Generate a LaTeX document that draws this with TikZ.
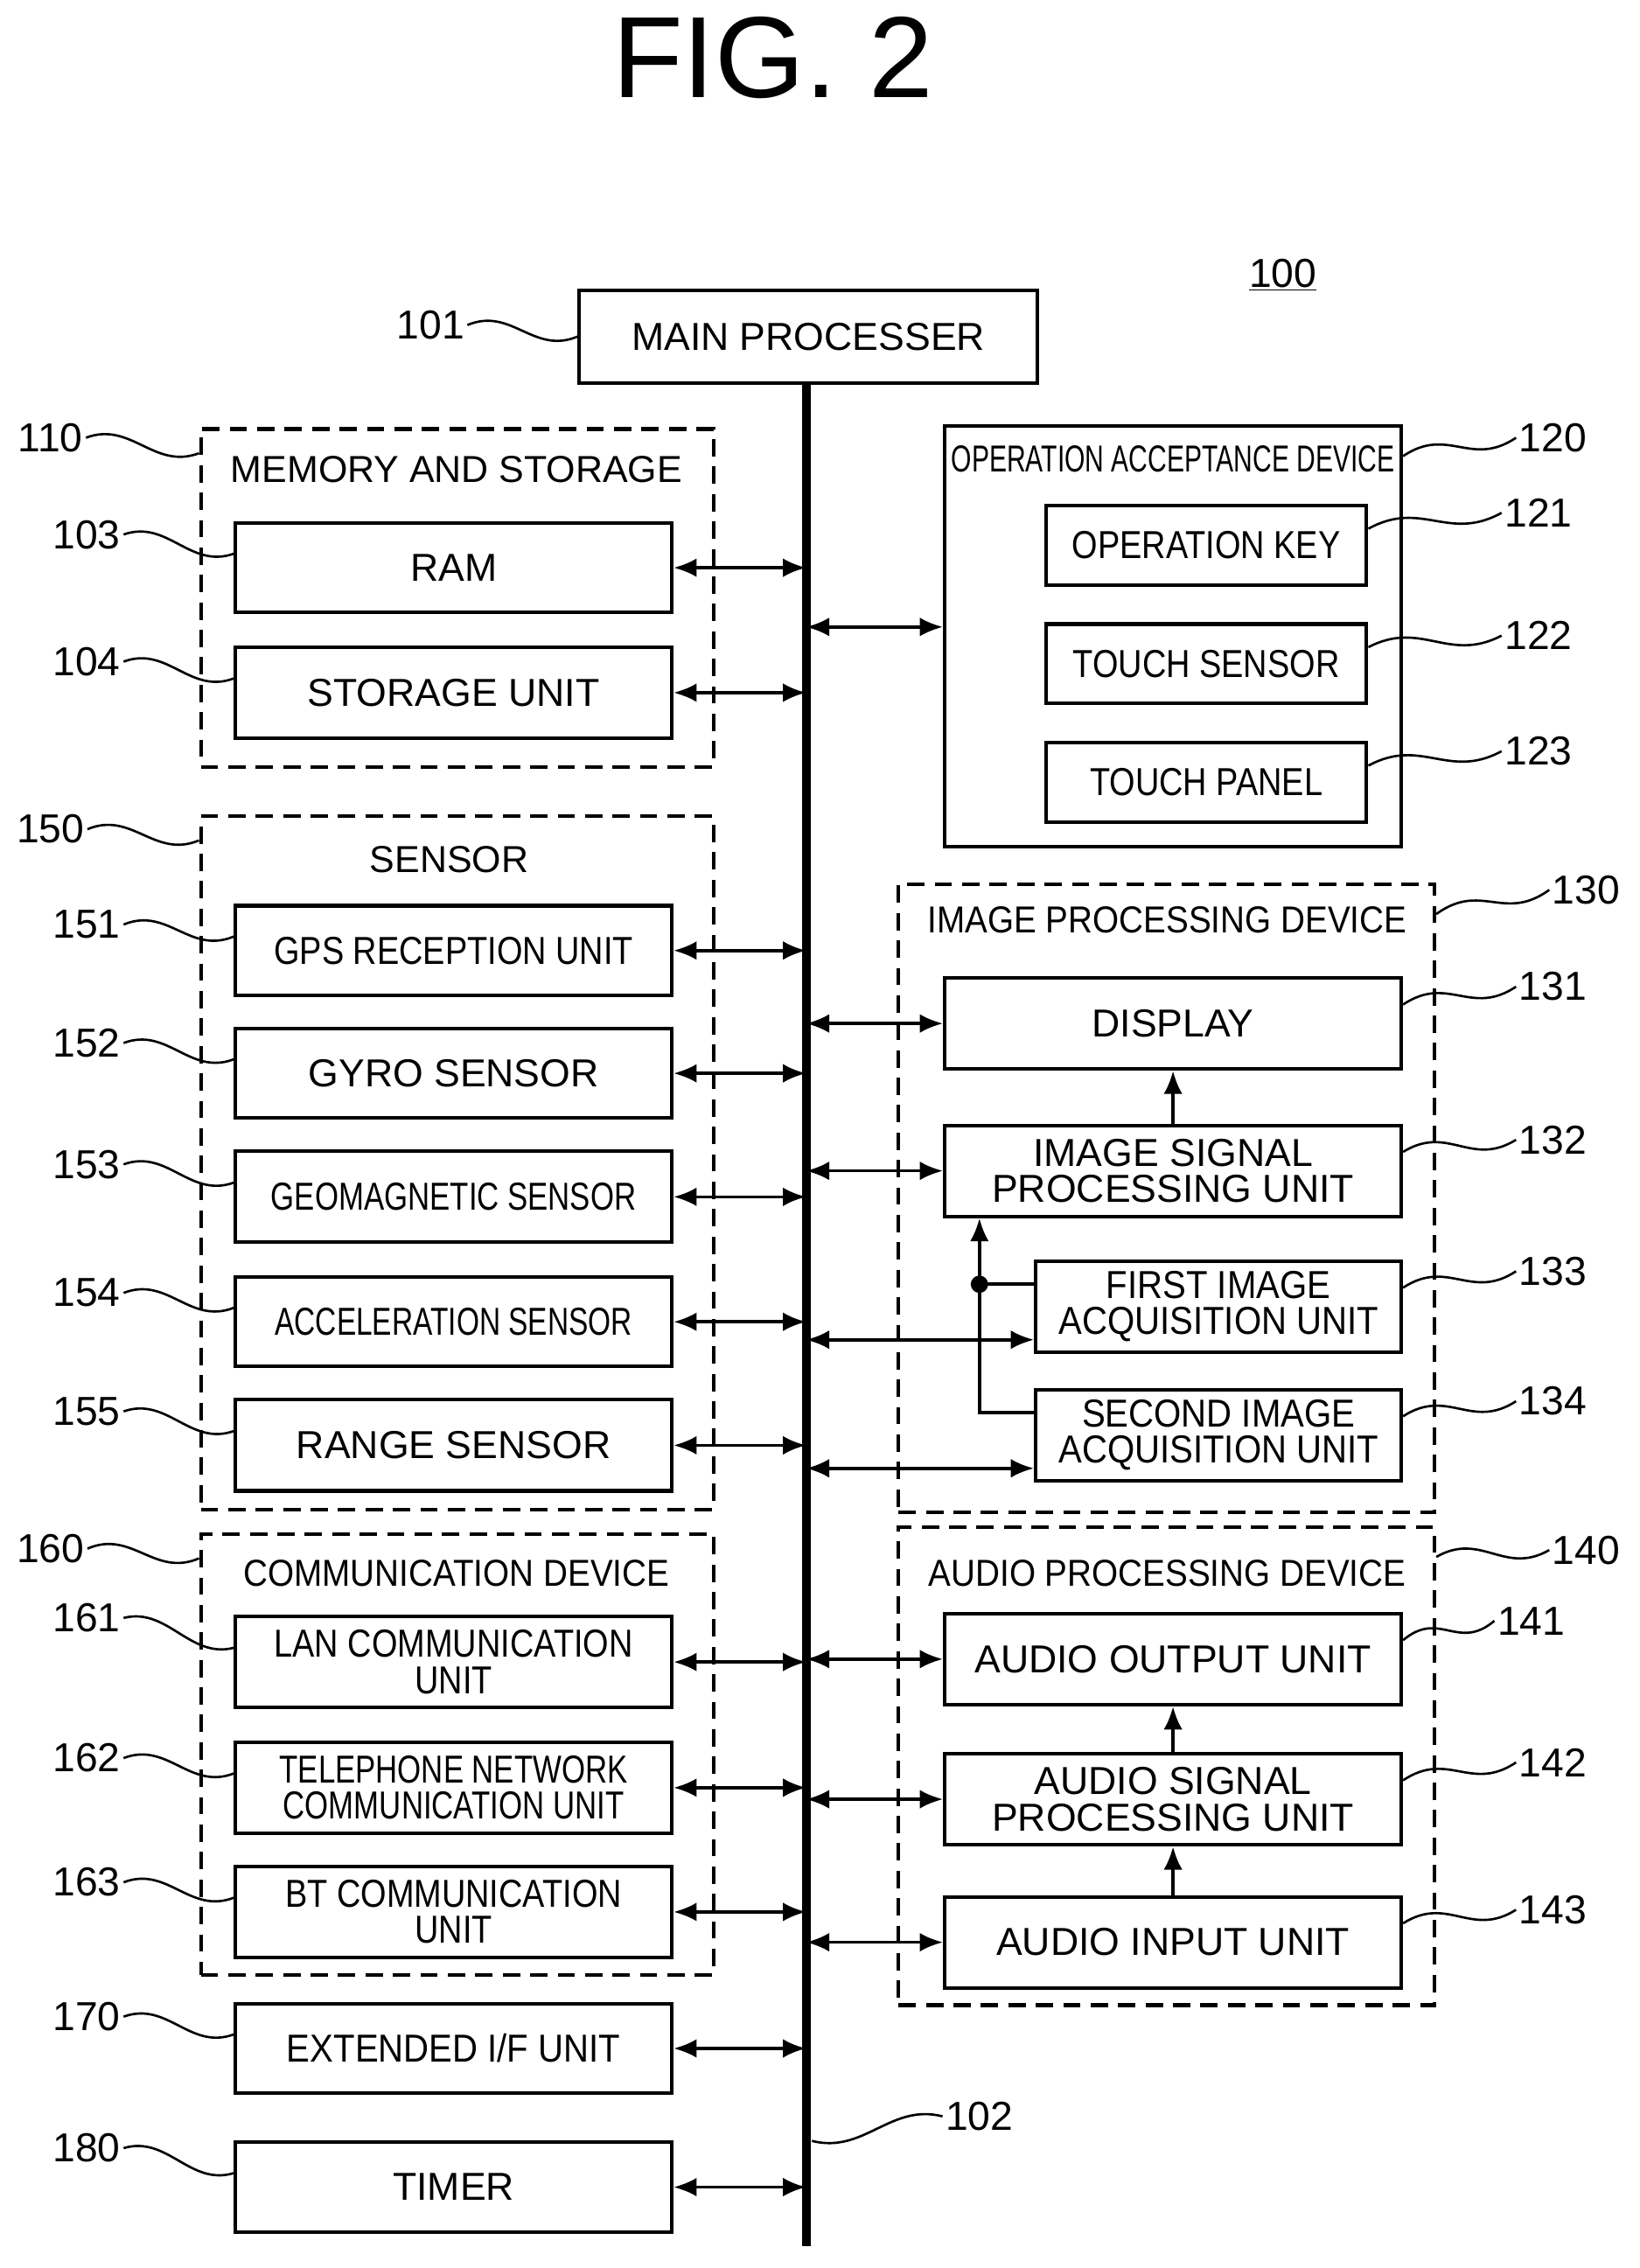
\documentclass[tikz,border=0pt]{standalone}
\usepackage{fontspec}
\setmainfont{Liberation Sans}
\usetikzlibrary{arrows.meta,calc}
\tikzset{
  blk/.style={draw, line width=2.5pt, align=center, inner sep=0pt, font=\fontsize{27}{25}\selectfont},
  grp/.style={draw, line width=2.5pt, dashed, dash pattern=on 12pt off 7pt, inner sep=0pt},
  opg/.style={draw, line width=2.5pt, inner sep=0pt},
  io/.style={line width=2.2pt, {Latex[length=16pt,width=13pt]}-{Latex[length=16pt,width=13pt]}},
  up/.style={line width=2.2pt, -{Latex[length=16pt,width=13pt]}},
  num/.style={font=\fontsize{28}{30}\selectfont, inner sep=2pt},
  ttl/.style={font=\fontsize{26}{28}\selectfont},
  squig/.style={line width=1.6pt, to path={.. controls ($(\tikztostart)!0.4!(\tikztotarget)+(0,-16)$) and ($(\tikztostart)!0.6!(\tikztotarget)+(0,16)$) .. (\tikztotarget)}},
}
% box by corners: style, name, x1, y1, x2, y2, text
\newcommand\bx[7]{\node[#1, minimum width={(#5-#3)*1pt}, minimum height={(#6-#4)*1pt}] (#2) at ({(#3+#5)/2},{(#4+#6)/2}) {#7};}
\newcommand\cnd[2]{\scalebox{#1}[1]{#2}}
\begin{document}
\begin{tikzpicture}[x=1pt,y=-1pt]
\useasboundingbox (0,0) rectangle (1135,1570);
\node[font=\fontsize{80}{80}\selectfont] (fig) at (535,40) {FIG. 2};
\node[num] (n100) at (888,190) {\underline{100}};

% main processor and bus
\bx{blk}{main}{401}{201}{718}{265}{MAIN PROCESSER}
\coordinate (bend) at (558,1555);
\draw[line width=6pt] (main.south -| bend) -- (bend);

% groups
\bx{grp}{g110}{139}{297}{494}{531}{}
\bx{grp}{g150}{139}{565}{494}{1045}{}
\bx{grp}{g160}{139}{1062}{494}{1367}{}
\bx{opg}{g120}{654}{295}{970}{586}{}
\bx{grp}{g130}{622}{612}{993}{1047}{}
\bx{grp}{g140}{622}{1057}{993}{1388}{}
\node[ttl] (t110) at (316,325) {MEMORY AND STORAGE};
\node[ttl] (t150) at (311,595) {SENSOR};
\node[ttl] (t160) at (316,1089) {\cnd{0.9}{COMMUNICATION DEVICE}};
\node[ttl] (t120) at (812,318) {\cnd{0.7}{OPERATION ACCEPTANCE DEVICE}};
\node[ttl] (t130) at (808,637) {\cnd{0.9}{IMAGE PROCESSING DEVICE}};
\node[ttl] (t140) at (808,1089) {\cnd{0.9}{AUDIO PROCESSING DEVICE}};

% left blocks
\bx{blk}{b103}{163}{362}{465}{424}{RAM}
\bx{blk}{b104}{163}{448}{465}{511}{STORAGE UNIT}
\bx{blk}{b151}{163}{627}{465}{689}{\cnd{0.85}{GPS RECEPTION UNIT}}
\bx{blk}{b152}{163}{712}{465}{774}{GYRO SENSOR}
\bx{blk}{b153}{163}{797}{465}{860}{\cnd{0.78}{GEOMAGNETIC SENSOR}}
\bx{blk}{b154}{163}{884}{465}{946}{\cnd{0.75}{ACCELERATION SENSOR}}
\bx{blk}{b155}{163}{969}{465}{1032}{RANGE SENSOR}
\bx{blk}{b161}{163}{1119}{465}{1182}{\cnd{0.85}{LAN COMMUNICATION}\\\cnd{0.85}{UNIT}}
\bx{blk}{b162}{163}{1206}{465}{1269}{\cnd{0.78}{TELEPHONE NETWORK}\\\cnd{0.78}{COMMUNICATION UNIT}}
\bx{blk}{b163}{163}{1292}{465}{1355}{\cnd{0.85}{BT COMMUNICATION}\\\cnd{0.85}{UNIT}}
\bx{blk}{b170}{163}{1387}{465}{1449}{\cnd{0.9}{EXTENDED I/F UNIT}}
\bx{blk}{b180}{163}{1483}{465}{1545}{TIMER}
\foreach \b in {b103,b104,b151,b152,b153,b154,b155,b161,b162,b163,b170,b180}
  \draw[io] (\b.east) -- (\b.east -| bend);

% right blocks
\bx{blk}{b121}{724}{350}{946}{405}{\cnd{0.85}{OPERATION KEY}}
\bx{blk}{b122}{724}{432}{946}{487}{\cnd{0.85}{TOUCH SENSOR}}
\bx{blk}{b123}{724}{514}{946}{569}{\cnd{0.85}{TOUCH PANEL}}
\bx{blk}{b131}{654}{677}{970}{740}{DISPLAY}
\bx{blk}{b132}{654}{779}{970}{842}{IMAGE SIGNAL\\PROCESSING UNIT}
\bx{blk}{b133}{717}{873}{970}{936}{\cnd{0.9}{FIRST IMAGE}\\\cnd{0.9}{ACQUISITION UNIT}}
\bx{blk}{b134}{717}{962}{970}{1025}{\cnd{0.9}{SECOND IMAGE}\\\cnd{0.9}{ACQUISITION UNIT}}
\bx{blk}{b141}{654}{1117}{970}{1180}{AUDIO OUTPUT UNIT}
\bx{blk}{b142}{654}{1214}{970}{1277}{AUDIO SIGNAL\\PROCESSING UNIT}
\bx{blk}{b143}{654}{1313}{970}{1376}{AUDIO INPUT UNIT}
\draw[io] (g120.west |- 0,434) coordinate (c120) -- (c120 -| bend);
\foreach \b in {b131,b132,b141,b142,b143}
  \draw[io] (\b.west) -- (\b.west -| bend);
\draw[io] ($(b133.south west)!0.3!(b133.west)$) coordinate (c133) -- (c133 -| bend);
\draw[io] ($(b134.south west)!0.3!(b134.west)$) coordinate (c134) -- (c134 -| bend);
\draw[up] (b132.north) -- (b131.south);
\draw[up] (b142.north) -- (b141.south);
\draw[up] (b143.north) -- (b142.south);
% image acquisition to signal processing
\coordinate (jn) at (678,889);
\draw[line width=2.2pt] (jn -| b133.west) -- (jn) |- (0,978 -| b134.west);
\draw[up] (jn) -- (jn |- b132.south);
\fill (jn) circle (6pt);

% reference numerals
\node[num] (n101) at (298,225) {101};
\draw[squig] (n101.east) to (main.west);
\node[num] (n102) at (678,1465) {102};
\draw[squig] (n102.west) to (562,1482);
\foreach \n/\y/\t in {110/303/g110,150/574/g150,160/1072/g160}{
  \node[num] (n\n) at (35,\y) {\n};
  \draw[squig] (n\n.east) to ($(\t.north west)+(0,18)$);
}
\foreach \n/\y in {103/370,104/458,151/640,152/722,153/806,154/895,155/977,161/1120,162/1217,163/1303,170/1396,180/1487}{
  \node[num] (n\n) at (60,\y) {\n};
  \draw[squig] (n\n.east) to ($(b\n.north west)!0.35!(b\n.south west)$);
}
\foreach \n/\x/\y/\t in {120/1075/303/g120,130/1098/616/g130,140/1098/1073/g140}{
  \node[num] (n\n) at (\x,\y) {\n};
  \draw[squig] ($(\t.north east)+(0,22)$) to (n\n.west);
}
\foreach \n/\x/\y/\t in {121/1065/355/b121,122/1065/440/b122,123/1065/520/b123,131/1075/683/b131,132/1075/789/b132,133/1075/880/b133,134/1075/970/b134,141/1060/1122/b141,142/1075/1220/b142,143/1075/1322/b143}{
  \node[num] (n\n) at (\x,\y) {\n};
  \draw[squig] ($(\t.north east)!0.3!(\t.south east)$) to (n\n.west);
}
\end{tikzpicture}
\end{document}
